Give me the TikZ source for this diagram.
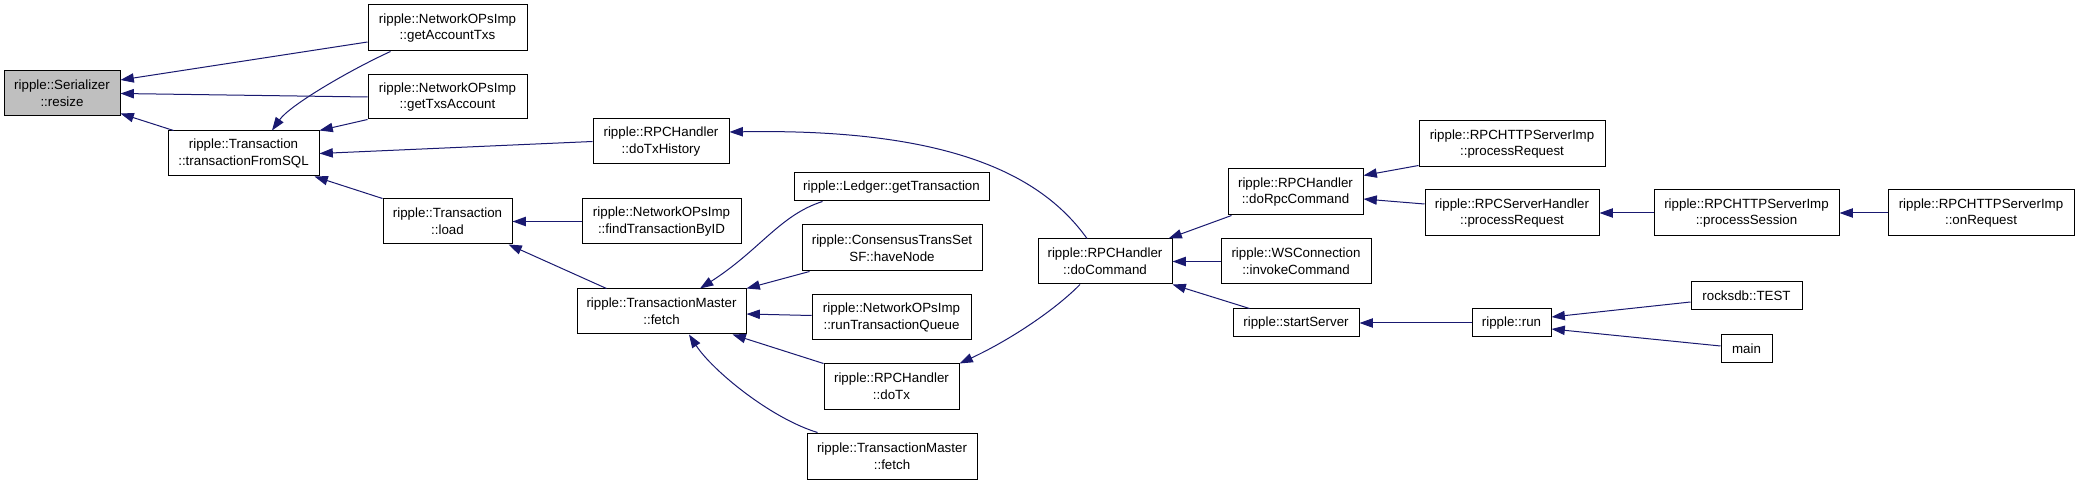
\documentclass[tikz,border=0pt]{standalone}
\usepackage{fontspec}
\setmainfont{Liberation Sans}
\usetikzlibrary{arrows.meta}
\definecolor{edgeblue}{HTML}{191970}
\definecolor{hlgray}{HTML}{BFBFBF}
\tikzset{
  fnode/.style={draw=black, line width=0.75pt, fill=white, inner sep=0pt, align=center, font=\fontsize{10}{12.5}\selectfont},
  dim/.style 2 args={minimum width=#1*0.75pt, minimum height=#2*0.75pt},
  calls/.style={draw=edgeblue, line width=0.75pt, -{Triangle[length=10pt,width=7pt]}},
}
\begin{document}
\begin{tikzpicture}[x=0.75pt,y=-0.75pt]
\useasboundingbox (0,0) rectangle (2080,484);
\fill[white] (0,0) rectangle (2080,484);
\node[fnode,dim={116}{45},fill=hlgray] (resize) at (62,93.5) {ripple::Serializer\\::resize};
\node[fnode,dim={159}{46}] (gat) at (447.5,28) {ripple::NetworkOPsImp\\::getAccountTxs};
\node[fnode,dim={159}{44}] (gta) at (447.5,97) {ripple::NetworkOPsImp\\::getTxsAccount};
\node[fnode,dim={151}{45}] (tfs) at (243.5,153.5) {ripple::Transaction\\::transactionFromSQL};
\node[fnode,dim={129}{45}] (load) at (447.5,221.5) {ripple::Transaction\\::load};
\node[fnode,dim={136}{45}] (dth) at (661,141.5) {ripple::RPCHandler\\::doTxHistory};
\node[fnode,dim={159}{45}] (ftb) at (661.5,221.5) {ripple::NetworkOPsImp\\::findTransactionByID};
\node[fnode,dim={169}{45}] (fetchA) at (661.5,311.5) {ripple::TransactionMaster\\::fetch};
\node[fnode,dim={195}{28}] (lgt) at (891.5,187) {ripple::Ledger::getTransaction};
\node[fnode,dim={180}{46}] (cts) at (892,248) {ripple::ConsensusTransSet\\SF::haveNode};
\node[fnode,dim={159}{45}] (rtq) at (891.5,317.5) {ripple::NetworkOPsImp\\::runTransactionQueue};
\node[fnode,dim={135}{45}] (dotx) at (891.5,386.5) {ripple::RPCHandler\\::doTx};
\node[fnode,dim={170}{46}] (fetchB) at (892,456) {ripple::TransactionMaster\\::fetch};
\node[fnode,dim={134}{45}] (docmd) at (1105,261.5) {ripple::RPCHandler\\::doCommand};
\node[fnode,dim={135}{46}] (drpc) at (1295.5,192) {ripple::RPCHandler\\::doRpcCommand};
\node[fnode,dim={150}{45}] (wsc) at (1296,261.5) {ripple::WSConnection\\::invokeCommand};
\node[fnode,dim={126}{28}] (ss) at (1296,323) {ripple::startServer};
\node[fnode,dim={186}{46}] (hpr) at (1512,144) {ripple::RPCHTTPServerImp\\::processRequest};
\node[fnode,dim={174}{46}] (rsh) at (1512,213) {ripple::RPCServerHandler\\::processRequest};
\node[fnode,dim={185}{46}] (hps) at (1746.5,213) {ripple::RPCHTTPServerImp\\::processSession};
\node[fnode,dim={186}{46}] (hor) at (1981,213) {ripple::RPCHTTPServerImp\\::onRequest};
\node[fnode,dim={79}{28}] (run) at (1511.5,323) {ripple::run};
\node[fnode,dim={111}{28}] (rtest) at (1746.5,296) {rocksdb::TEST};
\node[fnode,dim={51}{28}] (main) at (1746.5,349) {main};

\draw[calls] ([shift={(0,14)}]gat.west) -- ([shift={(0,-13.5)}]resize.east);
\draw[calls] (gta.west) -- (resize.east);
\draw[calls] ([shift={(6,0)}]tfs.north west) -- ([shift={(0,-3)}]resize.south east);
\draw[calls] ([shift={(23,0)}]gat.south west) .. controls (350,70) and (290,105) .. ([shift={(28.5,0)}]tfs.north);
\draw[calls] (gta.south west) -- (tfs.north east);
\draw[calls] (dth.west) -- (tfs.east);
\draw[calls] (load.north west) -- ([shift={(-5,0)}]tfs.south east);
\draw[calls] (ftb.west) -- (load.east);
\draw[calls] ([shift={(30,0)}]fetchA.north west) -- ([shift={(-4,0)}]load.south east);
\draw[calls] ([shift={(29,0)}]lgt.south west) .. controls (780,215) and (760,250) .. ([shift={(38.5,0)}]fetchA.north);
\draw[calls] ([shift={(8,0)}]cts.south west) -- (fetchA.north east);
\draw[calls] ([shift={(0,-2)}]rtq.west) -- ([shift={(0,2.5)}]fetchA.east);
\draw[calls] (dotx.north west) -- ([shift={(-14,0)}]fetchA.south east);
\draw[calls] ([shift={(11,0)}]fetchB.north west) .. controls (770,418) and (712,370) .. ([shift={(27.5,0)}]fetchA.south);
\draw[calls] ([shift={(-18,0)}]docmd.north) .. controls (1045,180) and (960,128) .. ([shift={(0,-9.5)}]dth.east);
\draw[calls] ([shift={(-25,0)}]docmd.south) .. controls (1055,310) and (1010,340) .. (dotx.north east);
\draw[calls] ([shift={(4,0)}]drpc.south west) -- ([shift={(-4,0)}]docmd.north east);
\draw[calls] (wsc.west) -- (docmd.east);
\draw[calls] ([shift={(17,0)}]ss.north west) -- (docmd.south east);
\draw[calls] ([shift={(0,-2)}]hpr.south west) -- ([shift={(0,7)}]drpc.north east);
\draw[calls] ([shift={(0,-9)}]rsh.west) -- ([shift={(0,7)}]drpc.east);
\draw[calls] (hps.west) -- (rsh.east);
\draw[calls] (hor.west) -- (hps.east);
\draw[calls] (run.west) -- (ss.east);
\draw[calls] ([shift={(0,6)}]rtest.west) -- ([shift={(0,-6)}]run.east);
\draw[calls] ([shift={(0,-3)}]main.west) -- ([shift={(0,6)}]run.east);
\end{tikzpicture}
\end{document}
